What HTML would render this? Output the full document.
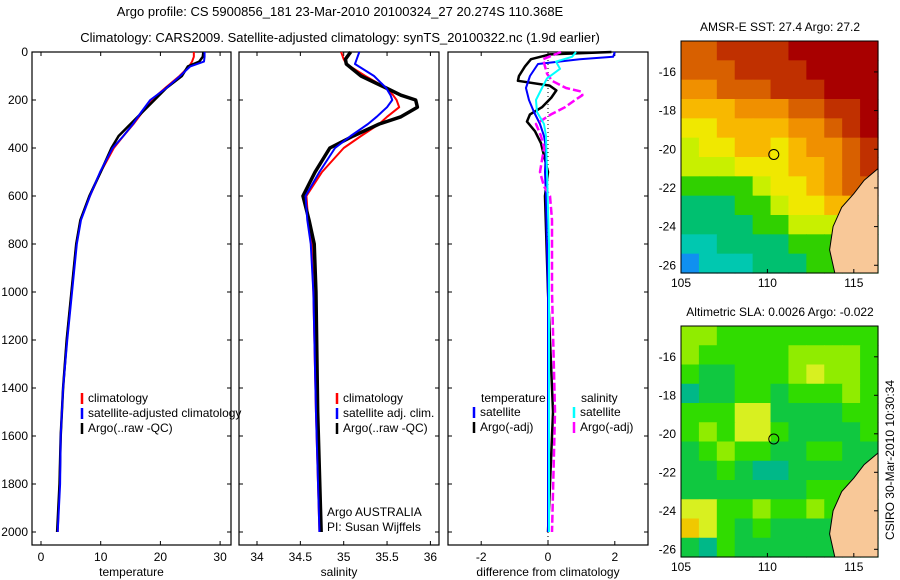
<!DOCTYPE html>
<html><head><meta charset="utf-8"><style>
body{margin:0;background:#fff;}
svg{display:block;font-family:"Liberation Sans",sans-serif;}
</style></head><body>
<svg id="c" width="900" height="580" viewBox="0 0 900 580">
<text x="340" y="16" font-size="13" text-anchor="middle">Argo profile: CS 5900856_181 23-Mar-2010 20100324_27 20.274S 110.368E</text>
<text x="340" y="42" font-size="13" text-anchor="middle">Climatology: CARS2009. Satellite-adjusted climatology: synTS_20100322.nc (1.9d earlier)</text>
<text x="780" y="31" font-size="12" text-anchor="middle">AMSR-E SST: 27.4 Argo: 27.2</text>
<text x="780" y="316" font-size="12" text-anchor="middle">Altimetric SLA: 0.0026 Argo: -0.022</text>
<text transform="translate(894,460) rotate(-90)" font-size="12" text-anchor="middle">CSIRO 30-Mar-2010 10:30:34</text>
<g id="g"></g>
</svg>
<script>
// depth axis
const depthTicks=[0,200,400,600,800,1000,1200,1400,1600,1800,2000];
// temperature panel
const tTicks=[0,10,20,30];
const tClimD=[0,20,40,60,100,150,200,250,300,350,400,500,600,700,800,1000,1200,1400,1600,1800,2000];
const tClim=[25.6,25.6,25.3,24.8,23.2,20.8,18.5,17.0,15.5,13.8,12.2,10.0,8.2,6.6,5.9,5.1,4.3,3.7,3.3,3.1,2.8];
const tSat=[27.4,27.4,27.3,25.0,23.3,21.0,18.3,16.8,15.4,13.8,12.0,9.9,8.2,6.7,6.0,5.2,4.4,3.7,3.3,3.2,2.8];
const tArgo=[27.2,27.1,26.5,24.6,23.6,21.0,19.0,17.0,15.0,13.0,11.8,10.0,8.1,6.6,5.9,5.1,4.3,3.7,3.3,3.1,2.7];
// salinity panel
const sTicks=[34,34.5,35,35.5,36];
const sD=[0,30,50,100,150,180,200,230,270,300,350,400,500,600,700,800,1000,1500,2000];
const sClim=[34.97,35.0,35.03,35.25,35.49,35.57,35.61,35.64,35.5,35.41,35.2,35.0,34.75,34.57,34.59,34.63,34.65,34.68,34.72];
const sSat=[35.18,35.15,35.13,35.35,35.49,35.54,35.56,35.5,35.38,35.28,35.08,34.9,34.72,34.56,34.58,34.62,34.65,34.68,34.72];
const sArgo=[35.08,35.02,35.03,35.2,35.49,35.66,35.83,35.85,35.66,35.41,35.11,34.84,34.67,34.53,34.6,34.66,34.68,34.7,34.74];
// difference panel
const dTicks=[-2,0,2];
const dD=[0,20,30,50,100,150,200,250,300,350,400,500,600,1000,1500,2000];
const dTSat=[2.0,1.95,0.95,-0.3,-0.54,-0.66,-0.57,-0.42,-0.24,-0.12,-0.06,-0.09,-0.06,0,0,0];
const dD2=[0,10,30,60,100,120,140,160,190,230,260,290,330,380,500,600,1000,1500,2000];
const dTArgo=[1.9,0.05,-0.51,-0.69,-0.87,-0.9,0.05,0.25,0.1,-0.18,-0.54,-0.63,-0.39,-0.21,0,-0.09,0,0.15,0];
const dSD=[0,20,40,70,110,150,200,250,300,350,500,800,2000];
const dSSat=[0.84,0.72,0.24,0.36,-0.03,-0.18,-0.36,-0.33,-0.12,-0.06,-0.03,0.03,0.03];
const dSD2=[0,30,60,90,120,150,165,180,200,230,260,300,350,400,500,560,600,700,1000,1500,2000];
const dSArgo=[0.39,-0.15,-0.09,-0.03,0.12,0.54,1.0,1.03,0.81,0.51,0.09,-0.36,-0.21,-0.12,-0.24,-0.12,0.06,0.12,0.12,0.21,0.12];
// maps
const latTicks=[-16,-18,-20,-22,-24,-26];
const lonTicks=[105,110,115];
const sstGrid=[
[7,7,8,8,8,8,9,9,9,9,9],[7,7,7,8,8,8,8,9,9,9,9],[6,6,7,7,7,8,8,8,9,9,9],
[5,5,5,6,6,6,7,7,8,8,9],[4,4,5,5,5,5,6,6,7,8,9],[3,4,4,5,5,4,5,6,6,7,8],
[3,3,3,4,4,4,5,5,6,7,8],[2,2,2,2,3,4,4,5,6,7,7],[1,1,1,2,2,3,4,4,5,5,5],
[1,1,1,1,2,2,3,3,3,2,2],[0,0,1,1,1,1,2,2,2,2,2],[-1,0,0,0,1,1,1,2,2,2,2]];
const slaGrid=[
[3,3,2,2,2,2,2,2,2,2,2],[3,2,2,2,2,2,3,3,3,3,2],[2,1,1,2,2,2,3,4,3,3,2],
[0,1,1,2,2,1,2,2,2,3,2],[2,2,2,4,4,1,1,1,1,2,2],[2,3,2,4,4,2,1,1,1,1,2],
[1,2,3,2,2,1,1,2,2,1,1],[1,1,2,1,0,0,1,1,1,1,1],[1,1,1,1,1,1,1,2,2,2,2],
[4,4,2,2,3,2,2,3,2,2,2],[5,4,2,1,2,1,1,1,1,1,1],[1,0,2,1,1,1,1,1,1,1,1]];
const coastLon=[116.4,115.6,115.0,114.3,113.8,113.6,113.9,116.4];
const coastLat=[-21.0,-21.6,-22.3,-23.0,-24.0,-25.2,-26.4,-26.4];
const argoPos=[110.37,-20.27];

const NS='http://www.w3.org/2000/svg';
const G=document.getElementById('g');
function mk(t,a,p){const e=document.createElementNS(NS,t);for(const k in a)e.setAttribute(k,a[k]);(p||G).appendChild(e);return e;}
const y=d=>52+d*0.24;
const xT=v=>41+v*5.97, xS=v=>257+(v-34)*86.7, xD=v=>548+v*33.4;

function panel(x0,x1,name,ticks,xf,label,showY){
  const r=mk('rect',{x:x0,y:52,width:x1-x0,height:493,fill:'none',stroke:'#000','stroke-width':1.2});
  
  
  ticks.forEach(t=>{const X=xf(t);
    mk('line',{x1:X,x2:X,y1:52,y2:56,stroke:'#000'});mk('line',{x1:X,x2:X,y1:541,y2:545,stroke:'#000'});
    const tx=mk('text',{x:X,y:561,'font-size':12,'text-anchor':'middle'});tx.textContent=t;
    
    });
  depthTicks.forEach(d=>{mk('line',{x1:x0,x2:x0+4,y1:y(d),y2:y(d),stroke:'#000'});mk('line',{x1:x1-4,x2:x1,y1:y(d),y2:y(d),stroke:'#000'});
    if(showY){const tx=mk('text',{x:28,y:y(d)+4,'font-size':12,'text-anchor':'end'});tx.textContent=d;
    
    }});
  const l=mk('text',{x:(x0+x1)/2,y:576,'font-size':12,'text-anchor':'middle'});l.textContent=label;
  
  
}
function line(ds,vs,xf,col,w,name,dash){
  const p=mk('polyline',{points:ds.map((d,i)=>xf(vs[i])+','+y(d)).join(' '),fill:'none',stroke:col,'stroke-width':w,'stroke-linejoin':'round'});
  if(dash)p.setAttribute('stroke-dasharray',dash);
  
  
}
function legend(x,y0,items){items.forEach((it,i)=>{const yy=y0+i*15;
  mk('line',{x1:x,x2:x,y1:yy-9,y2:yy+2,stroke:it[1],'stroke-width':2.5});
  const t=mk('text',{x:x+6,y:yy,'font-size':12});t.textContent=it[0];
  
  });}

panel(32,231,'temperature-panel',tTicks,xT,'temperature',true);
panel(239,439,'salinity-panel',sTicks,xS,'salinity',false);
panel(448,648,'difference-panel',dTicks,xD,'difference from climatology',false);
mk('line',{x1:xD(0),x2:xD(0),y1:52,y2:545,stroke:'#000','stroke-dasharray':'1,3'});

line(tClimD,tClim,xT,'#f00',2,'temp-climatology-line');
line(tClimD,tArgo,xT,'#000',2.5,'temp-argo-line');
line(tClimD,tSat,xT,'#00f',2,'temp-satellite-line');
line(sD,sClim,xS,'#f00',2,'sal-climatology-line');
line(sD,sArgo,xS,'#000',3.5,'sal-argo-line');
line(sD,sSat,xS,'#00f',2,'sal-satellite-line');
line(dD2,dTArgo,xD,'#000',2.5,'diff-temp-argo-line');
line(dD,dTSat,xD,'#00f',2,'diff-temp-satellite-line');
line(dSD2,dSArgo,xD,'#f0f',2.5,'diff-sal-argo-line','8,3');
line(dSD,dSSat,xD,'#0ff',2,'diff-sal-satellite-line');

legend(82,402,[['climatology','#f00'],['satellite-adjusted climatology','#00f'],['Argo(..raw -QC)','#000']]);
legend(337,402,[['climatology','#f00'],['satellite adj. clim.','#00f'],['Argo(..raw -QC)','#000']]);
let t=mk('text',{x:481,y:402,'font-size':12});t.textContent='temperature';


t=mk('text',{x:581,y:402,'font-size':12});t.textContent='salinity';


legend(474,416,[['satellite','#00f'],['Argo(-adj)','#000']]);
legend(574,416,[['satellite','#0ff'],['Argo(-adj)','#f0f']]);
t=mk('text',{x:327,y:516,'font-size':12});t.textContent='Argo AUSTRALIA';


t=mk('text',{x:327,y:531,'font-size':12});t.textContent='PI: Susan Wijffels';



const sstCol={'-1':'#1090f0',0:'#00c8b0',1:'#00c070',2:'#30d000',3:'#c8f000',4:'#f0e800',5:'#f8b800',6:'#f09000',7:'#d86000',8:'#c03000',9:'#a80000'};
const slaCol={0:'#00b888',1:'#10c840',2:'#30dc00',3:'#90ec00',4:'#d8f020',5:'#f0c800'};
function map(top,bot,name,grid,cols){
  const L=681,R=878,lonMin=105,lonMax=116.4,latTop=-14.4,latBot=-26.4;
  const px=lo=>L+(lo-lonMin)/(lonMax-lonMin)*(R-L), py=la=>top+(latTop-la)/(latTop-latBot)*(bot-top);
  const nr=grid.length,nc=grid[0].length,cw=(R-L)/nc,ch=(bot-top)/nr;
  grid.forEach((row,i)=>row.forEach((v,j)=>{mk('rect',{x:L+j*cw,y:top+i*ch,width:cw+0.6,height:ch+0.6,fill:cols[v]});}));
  const land=mk('polygon',{points:coastLon.map((lo,i)=>px(lo)+','+py(coastLat[i])).join(' '),fill:'#f8c898',stroke:'#000','stroke-width':1});
  
  
  const c=mk('circle',{cx:px(argoPos[0]),cy:py(argoPos[1]),r:5,fill:'none',stroke:'#000','stroke-width':1});
  
  
  const f=mk('rect',{x:L,y:top,width:R-L,height:bot-top,fill:'none',stroke:'#000'});
  
  
  latTicks.forEach(la=>{const Y=py(la);mk('line',{x1:R-4,x2:R,y1:Y,y2:Y,stroke:'#000'});
    const tx=mk('text',{x:676,y:Y+4,'font-size':12,'text-anchor':'end'});tx.textContent=la;
    
    });
  lonTicks.forEach(lo=>{const X=px(lo);mk('line',{x1:X,x2:X,y1:bot-4,y2:bot,stroke:'#000'});
    const tx=mk('text',{x:X,y:bot+14,'font-size':12,'text-anchor':'middle'});tx.textContent=lo;
    
    });
}
map(41,273,'sst-map',sstGrid,sstCol);
map(326,557,'sla-map',slaGrid,slaCol);
</script>
</body></html>
